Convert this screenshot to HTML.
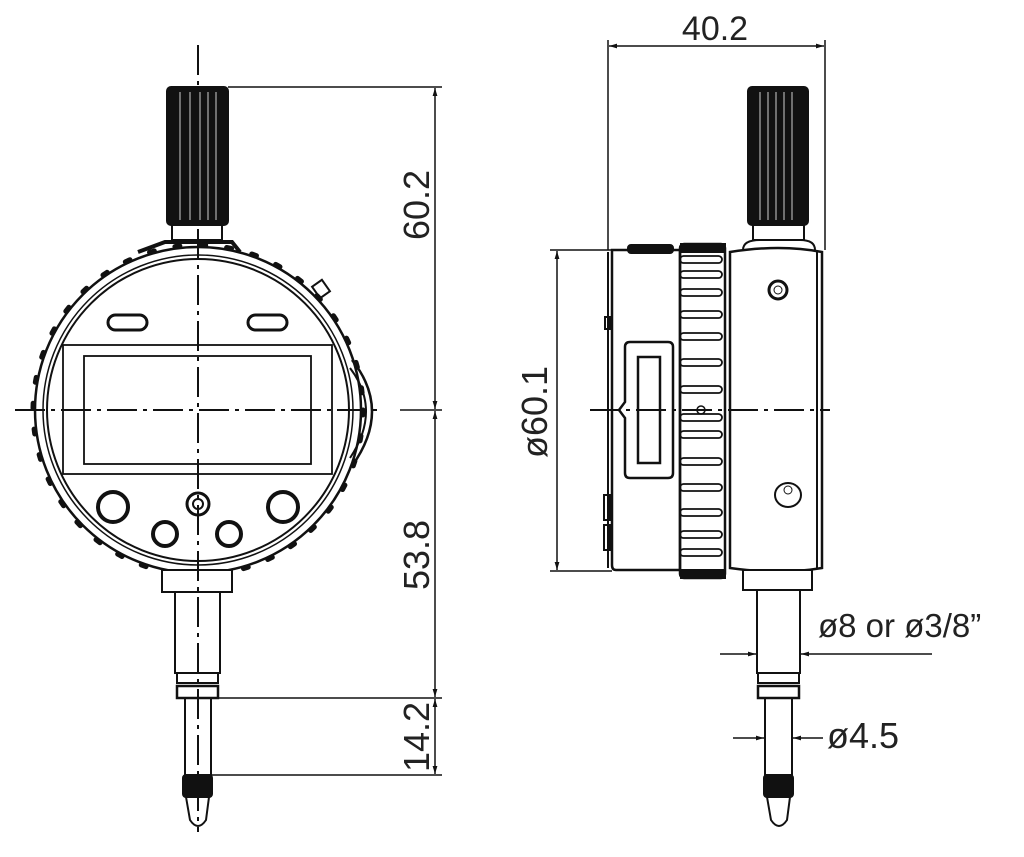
<!DOCTYPE html>
<html><head><meta charset="utf-8"><style>
html,body{margin:0;padding:0;background:#fff;}
svg{display:block;}
text{font-family:"Liberation Sans",sans-serif;fill:#222;}
</style></head><body>
<svg width="1024" height="857" viewBox="0 0 1024 857" xmlns="http://www.w3.org/2000/svg">
<defs>
<marker id="a" viewBox="0 0 10 10" refX="10" refY="5" markerWidth="10" markerHeight="8" orient="auto-start-reverse" markerUnits="userSpaceOnUse"><path d="M0,2 L10,5 L0,8 z" fill="#111"/></marker>
</defs>
<g fill="none" stroke="#111" stroke-width="2">
<!-- FRONT VIEW -->
<rect x="167" y="87" width="61" height="138" rx="4" fill="#111"/>
<g stroke="#fff" stroke-width="0.8"><line x1="180" y1="92" x2="180" y2="220"/><line x1="190" y1="92" x2="190" y2="220"/><line x1="200" y1="92" x2="200" y2="220"/><line x1="208" y1="92" x2="208" y2="220"/><line x1="216" y1="92" x2="216" y2="220"/></g>
<rect x="172" y="225" width="50" height="15"/>
<path d="M138,252 L165,242 L232,242 L240,252" stroke-width="4"/>
<path d="M352,360 Q392,410 352,466" stroke-width="2.5"/>
<path d="M350,368 Q382,410 350,458"/>
<rect x="315" y="282" width="12" height="14" transform="rotate(-35 321 289)"/>
<circle cx="198" cy="410" r="163" stroke-width="2.5"/>
<circle cx="198" cy="410" r="165" stroke-width="5" stroke-dasharray="5 21" stroke-linecap="round"/>
<circle cx="198" cy="410" r="155" stroke-width="1.5"/>
<circle cx="198" cy="410" r="151" stroke-width="2"/>
<rect x="63" y="345" width="269" height="129" stroke-width="1.8"/>
<rect x="84" y="356" width="227" height="108" stroke-width="1.8"/>
<rect x="108" y="315" width="39" height="15" rx="7.5" stroke-width="3"/>
<rect x="248" y="315" width="39" height="15" rx="7.5" stroke-width="3"/>
<circle cx="113" cy="507" r="15" stroke-width="4"/>
<circle cx="283" cy="507" r="15" stroke-width="4"/>
<circle cx="165" cy="534" r="12" stroke-width="4"/>
<circle cx="229" cy="534" r="12" stroke-width="4"/>
<circle cx="198" cy="504" r="11" stroke-width="3"/>
<circle cx="198" cy="504" r="5" stroke-width="2"/>
<rect x="162" y="570" width="70" height="22" fill="#fff"/>
<rect x="175" y="592" width="45" height="81"/>
<rect x="177" y="673" width="41" height="10"/>
<rect x="177" y="686" width="41" height="12" stroke-width="2.5"/>
<rect x="185" y="698" width="26" height="77"/>
<rect x="183" y="775" width="29" height="22" rx="3" fill="#111"/>
<path d="M186,797 L190,820 Q198,832 206,820 L209,797"/>
<line x1="198" y1="45" x2="198" y2="832" stroke-dasharray="30 6 4 6"/>
<line x1="15" y1="410" x2="382" y2="410" stroke-dasharray="30 6 4 6"/>
<g stroke-width="1.5">
<line x1="228" y1="87" x2="442" y2="87"/>
<line x1="400" y1="410" x2="442" y2="410"/>
<line x1="218" y1="698" x2="442" y2="698"/>
<line x1="212" y1="775" x2="442" y2="775"/>
<line x1="435" y1="88" x2="435" y2="409" marker-start="url(#a)" marker-end="url(#a)"/>
<line x1="435" y1="411" x2="435" y2="697" marker-start="url(#a)" marker-end="url(#a)"/>
<line x1="435" y1="699" x2="435" y2="774" marker-start="url(#a)" marker-end="url(#a)"/>
</g>

<!-- SIDE VIEW -->
<rect x="748" y="87" width="60" height="138" rx="4" fill="#111"/>
<g stroke="#fff" stroke-width="0.8"><line x1="760" y1="92" x2="760" y2="220"/><line x1="768" y1="92" x2="768" y2="220"/><line x1="776" y1="92" x2="776" y2="220"/><line x1="784" y1="92" x2="784" y2="220"/><line x1="792" y1="92" x2="792" y2="220"/></g>
<rect x="753" y="225" width="51" height="15"/>
<path d="M743,250 Q743,240 760,240 L800,240 Q815,240 815,250"/>
<path d="M612,250 L680,250 L680,570 L616,570 Q612,570 612,565 Z" stroke-width="2.5"/>
<line x1="608" y1="252" x2="608" y2="568"/>
<rect x="628" y="245" width="45" height="8" rx="3" fill="#111"/>
<rect x="605" y="317" width="5" height="12"/>
<rect x="604" y="495" width="6" height="25"/>
<rect x="604" y="525" width="6" height="25"/>
<path d="M625,347 Q625,342 630,342 L668,342 Q673,342 673,347 L673,473 Q673,478 668,478 L630,478 Q625,478 625,473 L625,418 L619,410 L625,402 Z" stroke-width="2.5"/>
<rect x="638" y="357" width="22" height="106" stroke-width="2.5"/>
<circle cx="701" cy="410" r="4" stroke-width="1.5"/>
<rect x="680" y="244" width="45" height="334" rx="4" stroke-width="2.5"/>
<rect x="681" y="244" width="44" height="8" fill="#111"/>
<rect x="681" y="570" width="44" height="8" fill="#111"/>
<g stroke-width="1.8">
<rect x="680" y="256" width="42" height="7" rx="3.5"/><rect x="680" y="271" width="42" height="7" rx="3.5"/>
<rect x="680" y="289" width="42" height="7" rx="3.5"/><rect x="680" y="311" width="42" height="7" rx="3.5"/>
<rect x="680" y="333" width="42" height="7" rx="3.5"/><rect x="680" y="359" width="42" height="7" rx="3.5"/>
<rect x="680" y="386" width="42" height="7" rx="3.5"/><rect x="680" y="414" width="42" height="7" rx="3.5"/>
<rect x="680" y="431" width="42" height="7" rx="3.5"/><rect x="680" y="458" width="42" height="7" rx="3.5"/>
<rect x="680" y="484" width="42" height="7" rx="3.5"/><rect x="680" y="509" width="42" height="7" rx="3.5"/>
<rect x="680" y="531" width="42" height="7" rx="3.5"/><rect x="680" y="549" width="42" height="7" rx="3.5"/>
</g>
<path d="M730,252 Q780,244 822,252 L822,568 Q780,575 730,568 Z" stroke-width="2.5"/>
<line x1="817" y1="252" x2="817" y2="568"/>
<circle cx="778" cy="290" r="9" stroke-width="3"/>
<circle cx="778" cy="290" r="4" stroke-width="1"/>
<ellipse cx="788" cy="495" rx="13" ry="12" stroke-width="2"/>
<circle cx="788" cy="490" r="4" stroke-width="1"/>
<rect x="743" y="570" width="69" height="20" fill="#fff"/>
<rect x="757" y="590" width="43" height="83"/>
<rect x="758" y="673" width="41" height="10"/>
<rect x="758" y="686" width="41" height="12" stroke-width="2.5"/>
<rect x="765" y="698" width="27" height="77"/>
<rect x="764" y="775" width="29" height="22" rx="3" fill="#111"/>
<path d="M767,797 L771,820 Q779,832 787,820 L790,797"/>
<line x1="590" y1="410" x2="830" y2="410" stroke-dasharray="30 6 4 6"/>
<g stroke-width="1.5">
<line x1="608" y1="40" x2="608" y2="250"/>
<line x1="825" y1="40" x2="825" y2="250"/>
<line x1="609" y1="46" x2="824" y2="46" marker-start="url(#a)" marker-end="url(#a)"/>
<line x1="550" y1="250" x2="612" y2="250"/>
<line x1="550" y1="571" x2="612" y2="571"/>
<line x1="557" y1="251" x2="557" y2="570" marker-start="url(#a)" marker-end="url(#a)"/>
<line x1="720" y1="654" x2="756" y2="654" marker-end="url(#a)"/>
<line x1="932" y1="654" x2="801" y2="654" marker-end="url(#a)"/>
<line x1="733" y1="738" x2="764" y2="738" marker-end="url(#a)"/>
<line x1="823" y1="738" x2="793" y2="738" marker-end="url(#a)"/>
</g>
</g>
<text x="715" y="40" font-size="34" text-anchor="middle">40.2</text>
<text transform="translate(429,205) rotate(-90)" font-size="36" text-anchor="middle">60.2</text>
<text transform="translate(429,555) rotate(-90)" font-size="36" text-anchor="middle">53.8</text>
<text transform="translate(429,737) rotate(-90)" font-size="36" text-anchor="middle">14.2</text>
<text transform="translate(547,412) rotate(-90)" font-size="36" text-anchor="middle">ø60.1</text>
<text x="818" y="637" font-size="33">ø8 or ø3/8”</text>
<text x="827" y="748" font-size="36">ø4.5</text>
</svg>
</body></html>
